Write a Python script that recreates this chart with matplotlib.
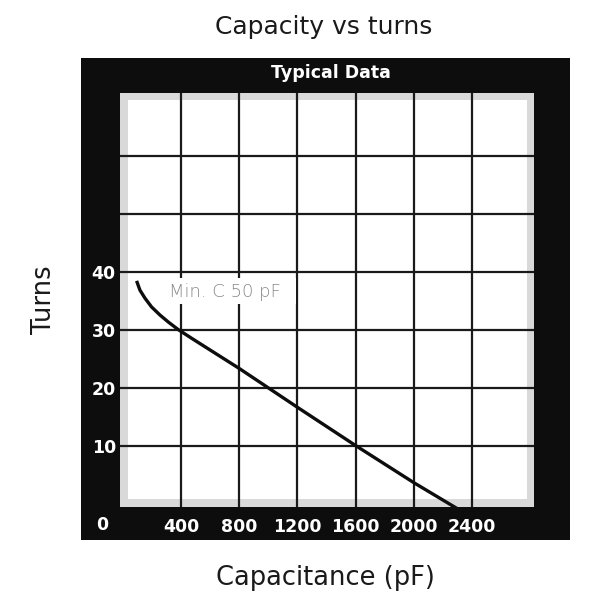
import matplotlib
matplotlib.use("Agg")
import matplotlib.pyplot as plt
from matplotlib.patches import Rectangle

# Data
cap_pf = [95, 118, 153, 198, 256, 313, 381, 473, 800, 1200, 1600, 2000, 2300]
turns = [38.4, 36.8, 35.4, 33.9, 32.5, 31.3, 30.0, 28.5, 23.3, 16.6, 10.0, 3.6, -0.9]
x_ticks = [400, 800, 1200, 1600, 2000, 2400]
y_ticks = [10, 20, 30, 40]
x_grid = [400, 800, 1200, 1600, 2000, 2400]
y_grid = [10, 20, 30, 40, 50, 60]

W = H = 600
fig = plt.figure(figsize=(6, 6), dpi=100)
fig.patch.set_facecolor("white")

def fx(px):
    return px / W

def fy(py):
    return 1 - py / H

# black frame
frame = Rectangle((fx(81), fy(540)), fx(570) - fx(81), fy(58) - fy(540),
                  transform=fig.transFigure, facecolor="#0d0d0d",
                  edgecolor="none", zorder=-5)
fig.add_artist(frame)

ax = fig.add_axes([fx(120), fy(507), fx(534) - fx(120), fy(93) - fy(507)])
ax.set_zorder(2)
ax.set_facecolor("#d9d9d9")
ax.set_xlim(-19, 2826)
ax.set_ylim(-0.6, 70.8)
for s in ax.spines.values():
    s.set_visible(False)

# white inner area
ax.add_patch(Rectangle((0.019, 0.019), 0.964, 0.964, transform=ax.transAxes,
                       facecolor="white", edgecolor="none", zorder=0.5))

for xv in x_grid:
    ax.axvline(xv, color="#1a1a1a", lw=1.6, zorder=1)
for yv in y_grid:
    ax.axhline(yv, color="#1a1a1a", lw=1.6, zorder=1)

# annotation box
ax.add_patch(Rectangle((269, 34.4), 1190 - 269, 38.9 - 34.4, facecolor="white",
                       edgecolor="none", zorder=2))
ax.text(316, 36.4, "Min. C 50 pF", color="#888888", fontsize=13, fontweight="light",
        ha="left", va="center", zorder=3)

ax.plot(cap_pf, turns, color="#0d0d0d", lw=2.4, zorder=4, solid_capstyle="butt",
        solid_joinstyle="round")

ax.set_xticks(x_ticks, [str(v) for v in x_ticks])
ax.set_yticks(y_ticks, [str(v) for v in y_ticks])
ax.tick_params(axis="both", length=0, labelcolor="white", labelsize=12.5)
ax.tick_params(axis="x", pad=8)
ax.tick_params(axis="y", pad=3)
for lab in ax.get_xticklabels() + ax.get_yticklabels():
    lab.set_fontweight("bold")

fig.text(fx(102), fy(525), "0", color="white", fontsize=12.5, fontweight="bold",
         ha="center", va="center")
fig.text(fx(331), fy(73), "Typical Data", color="white", fontsize=12.5, fontweight="bold",
         ha="center", va="center")
fig.text(fx(324), fy(27), "Capacity vs turns", color="#1a1a1a", fontsize=18,
         ha="center", va="center")
fig.text(fx(325), fy(578), "Capacitance (pF)", color="#1a1a1a", fontsize=18.5,
         ha="center", va="center")
fig.text(fx(44), fy(300), "Turns", color="#1a1a1a", fontsize=18.5, rotation=90,
         ha="center", va="center")

fig.savefig("out.png", dpi=100)
